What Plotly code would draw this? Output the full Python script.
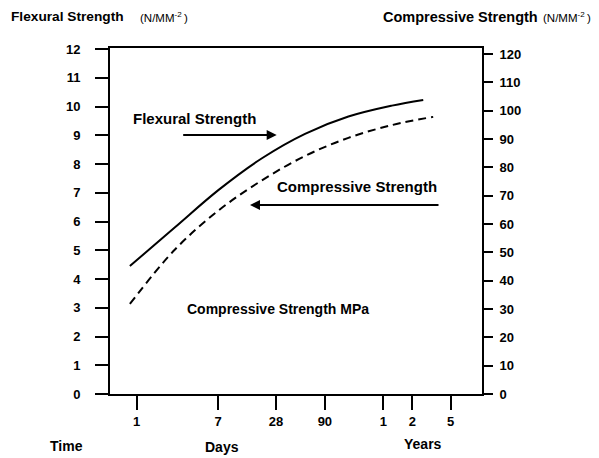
import plotly.graph_objects as go

# ---- data ----
days_flex = [0.85, 2.5, 7.1, 20, 56, 158, 447, 946]
flexural = [4.45, 5.80, 7.10, 8.20, 9.05, 9.65, 10.03, 10.23]
days_comp = [0.85, 2.5, 7.1, 20, 56, 158, 447, 1200]
compressive = [31.8, 51.0, 64.8, 75.4, 84.0, 90.4, 94.9, 97.8]

x_tickvals = [1, 7, 28, 90, 365, 730, 1825]
x_ticktext = ["1", "7", "28", "90", "1", "2", "5"]
left_ticks = list(range(0, 13))
right_ticks = list(range(0, 121, 10))

FONT = "Liberation Sans, Arial, sans-serif"

fig = go.Figure()
fig.add_trace(go.Scatter(x=days_flex, y=flexural, mode="lines",
                         line=dict(color="black", width=2, shape="spline", smoothing=1),
                         yaxis="y", showlegend=False, hoverinfo="skip"))
fig.add_trace(go.Scatter(x=days_comp, y=compressive, mode="lines",
                         line=dict(color="black", width=2, shape="spline", smoothing=1,
                                   dash="8px,5px"),
                         yaxis="y2", showlegend=False, hoverinfo="skip"))

tickfont = dict(family=FONT, size=13, color="black", weight="bold")

# page body adds an 8px offset, so the figure is 8px smaller and margins shifted
fig.update_layout(
    width=591, height=450,
    margin=dict(l=102, r=117, t=40, b=64),
    paper_bgcolor="white", plot_bgcolor="white",
    font=dict(family=FONT, color="black"),
    xaxis=dict(type="log", range=[-0.277, 3.586], tickvals=x_tickvals, ticktext=x_ticktext,
               showgrid=False, zeroline=False, showline=True, linecolor="black", linewidth=2,
               mirror=True, ticks="outside", ticklen=14, tickwidth=2, tickcolor="black",
               tickfont=tickfont),
    yaxis=dict(range=[0, 12.035], tickvals=left_ticks, showgrid=False, zeroline=False,
               showline=True, linecolor="black", linewidth=2, ticks="outside", ticklen=13,
               tickwidth=2, tickcolor="black", tickfont=tickfont, ticklabelstandoff=12),
    yaxis2=dict(range=[0, 122.1], tickvals=right_ticks, overlaying="y", side="right",
                showgrid=False, zeroline=False, showline=True, linecolor="black", linewidth=2,
                ticks="outside", ticklen=9, tickwidth=2, tickcolor="black", tickfont=tickfont,
                ticklabelstandoff=4),
)

def label(text, x, y, size, xanchor="center", bold=True):
    fig.add_annotation(text=text, x=x, y=y, xref="paper", yref="paper", showarrow=False,
                       xanchor=xanchor, yanchor="middle",
                       font=dict(family=FONT, size=size, color="black",
                                 weight="bold" if bold else "normal"))

# header labels
label("Flexural Strength", -0.2715, 1.0896, 13.7, xanchor="left")
label("(N/MM<sup>-2 </sup>)", 0.0753, 1.0896, 11.5, xanchor="left", bold=False)
label("Compressive Strength", 0.7285, 1.0896, 14.5, xanchor="left")
label("(N/MM<sup>-2 </sup>)", 1.158, 1.0896, 11.5, xanchor="left", bold=False)

# bottom labels
label("Time", -0.118, -0.1503, 14)
label("Days", 0.3024, -0.1532, 14)
label("Years", 0.8414, -0.1445, 14)

# in-plot labels
label("Flexural Strength", 0.226, 0.795, 15)
label("Compressive Strength", 0.665, 0.601, 15)
label("Compressive Strength MPa", 0.4516, 0.2457, 14)

# arrows
def arrow(x0, y0, x1, y1):
    fig.add_annotation(x=x1, y=y1, ax=x0, ay=y0, xref="x domain", yref="y domain",
                       axref="x domain", ayref="y domain", text="", showarrow=True,
                       arrowhead=2, arrowsize=1, arrowwidth=2, arrowcolor="black")

arrow(0.1927, 0.7486, 0.4481, 0.7486)
arrow(0.8871, 0.5462, 0.3763, 0.5462)

fig.write_html("out.html")
